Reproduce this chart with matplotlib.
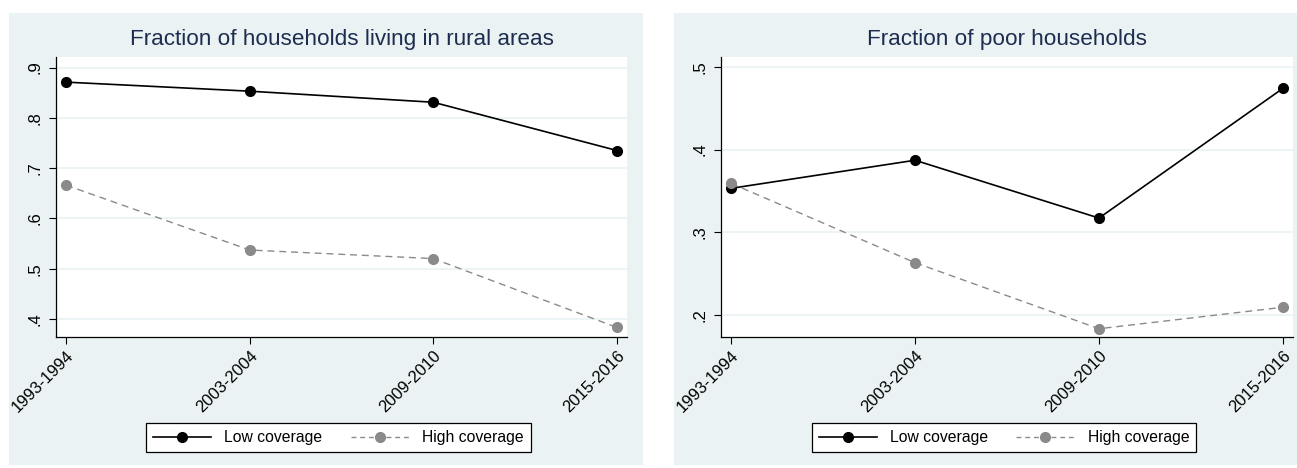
import matplotlib
matplotlib.use("Agg")
import matplotlib.pyplot as plt
from matplotlib.patches import Rectangle
from matplotlib.lines import Line2D

plt.rcParams['font.family'] = ['Liberation Sans', 'DejaVu Sans']

# Datos
periodos = ["1993-1994", "2003-2004", "2009-2010", "2015-2016"]
rural_baja = [0.871, 0.853, 0.831, 0.735]
rural_alta = [0.666, 0.537, 0.520, 0.383]
pobres_baja = [0.353, 0.387, 0.317, 0.474]
pobres_alta = [0.359, 0.263, 0.183, 0.209]

rural_ticks = [0.4, 0.5, 0.6, 0.7, 0.8, 0.9]
rural_labels = [".4", ".5", ".6", ".7", ".8", ".9"]
pobres_ticks = [0.2, 0.3, 0.4, 0.5]
pobres_labels = [".2", ".3", ".4", ".5"]

W, H = 1297, 468
fondo = "#eaf2f3"
color_titulo = "#1e2d4f"
gris = "#8a8a8a"

fig = plt.figure(figsize=(W / 100, H / 100), dpi=100)
fig.patch.set_facecolor("white")


def px(x0, y0, x1, y1):
    # rectangulo en pixeles (origen arriba-izquierda) -> fraccion de figura
    return [x0 / W, 1 - y1 / H, (x1 - x0) / W, (y1 - y0) / H]


def panel(caja, ejes, titulo, baja, alta, ticks, etiquetas, ylim):
    r = px(*caja)
    fig.patches.append(Rectangle((r[0], r[1]), r[2], r[3], transform=fig.transFigure,
                                 facecolor=fondo, edgecolor="none", zorder=-5))
    ax = fig.add_axes(px(*ejes))
    ax.set_facecolor("white")
    x = list(range(len(periodos)))
    ax.plot(x, baja, color="black", lw=1.2, marker="o", ms=7, zorder=3)
    ax.plot(x, alta, color=gris, lw=1.0, marker="o", ms=7, dashes=(5, 3.5), zorder=3)
    ax.set_xlim(-0.055, 3.055)
    ax.set_ylim(*ylim)
    ax.set_yticks(ticks)
    ax.set_yticklabels(etiquetas, rotation=90, va="center", fontsize=12)
    ax.set_xticks(x)
    ax.set_xticklabels(periodos, rotation=45, ha="right", rotation_mode="anchor", fontsize=12)
    ax.tick_params(direction="out", length=5, width=0.8, color="black")
    ax.tick_params(axis="y", pad=4.5)
    ax.tick_params(axis="x", pad=3)
    ax.grid(axis="y", color=fondo, lw=1.2)
    ax.set_axisbelow(True)
    for lado in ["top", "right"]:
        ax.spines[lado].set_visible(False)
    for lado in ["left", "bottom"]:
        ax.spines[lado].set_linewidth(0.9)
    cx = (ejes[0] + ejes[2]) / 2
    fig.text(cx / W, 1 - 40 / H, titulo, ha="center", va="center",
             fontsize=16.2, color=color_titulo)

    manejadores = [
        Line2D([], [], color="black", lw=1.2, marker="o", ms=7),
        Line2D([], [], color=gris, lw=1.0, marker="o", ms=7, dashes=(3.5, 2.8)),
    ]
    ley = fig.legend(manejadores, ["Low coverage", "High coverage"], ncol=2,
                     loc="center", bbox_to_anchor=((cx - 3) / W, 1 - 437.5 / H),
                     bbox_transform=fig.transFigure, fontsize=11.3, frameon=True,
                     fancybox=False, edgecolor="black", framealpha=1,
                     handlelength=3.7, handletextpad=0.85, columnspacing=1.8,
                     borderpad=0.45)
    ley.get_frame().set_linewidth(0.9)
    return ax


panel((9, 13, 643, 465), (56, 57, 627, 337),
      "Fraction of households living in rural areas",
      rural_baja, rural_alta, rural_ticks, rural_labels, (0.364, 0.921))
panel((674, 13, 1297, 465), (721, 57, 1293, 337),
      "Fraction of poor households",
      pobres_baja, pobres_alta, pobres_ticks, pobres_labels, (0.173, 0.512))

fig.savefig("out.png", dpi=100, facecolor="white")
